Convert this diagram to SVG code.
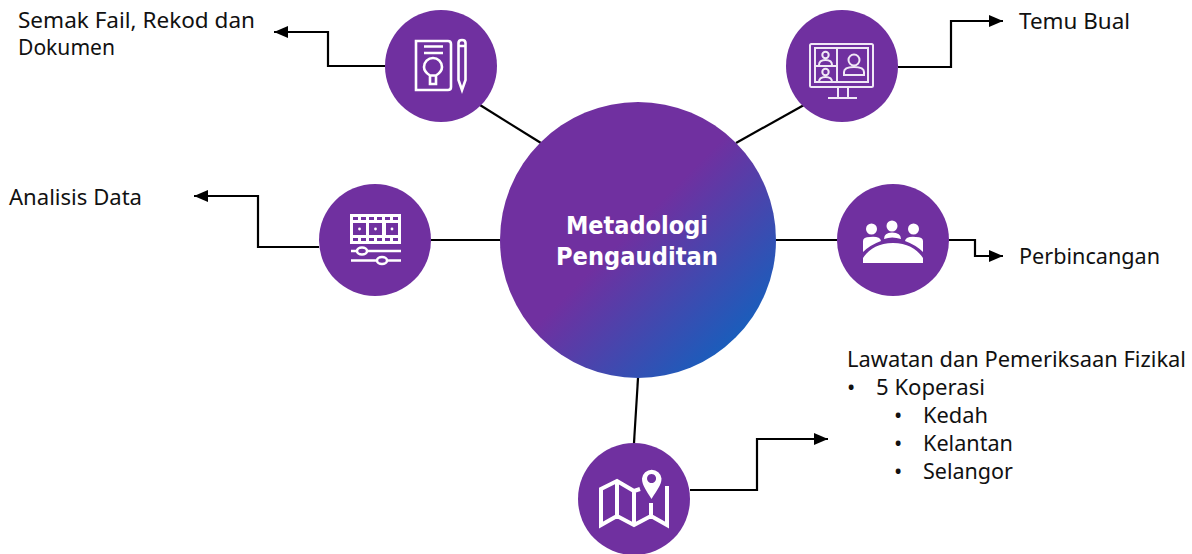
<svg xmlns="http://www.w3.org/2000/svg" width="1192" height="554" viewBox="0 0 1192 554">
<style>
.t{font-family:"Noto Sans","DejaVu Sans",sans-serif;font-size:22px;fill:#111}
.c{font-family:"DejaVu Sans",sans-serif;font-size:25px;font-weight:700;fill:#fff;text-anchor:middle}
.n{fill:#7030a0}
.l{fill:none;stroke:#000;stroke-width:2.200}
.i{fill:none;stroke:#fff;stroke-width:2.600}
.i2{fill:none;stroke:#f0e8f6;stroke-width:2}
.w{fill:#fff}
</style>
<defs>
<marker id="a" markerUnits="userSpaceOnUse" markerWidth="14" markerHeight="12" refX="14" refY="6" orient="auto"><path d="M0 0L14 6L0 12Z" fill="#000"/></marker>
<linearGradient id="g" x1="0" y1="0" x2="1" y2="1"><stop offset="0.47" stop-color="#7030a0"/><stop offset="0.88" stop-color="#1560bd"/></linearGradient>
</defs>
<g id="connectors">
<path class="l" d="M480 105L541 143"/><path class="l" d="M804 105L736 143"/>
<path class="l" d="M431 240H500"/><path class="l" d="M776 240H837"/>
<path class="l" d="M638 378L634 443"/>
<path class="l" marker-end="url(#a)" d="M385 66H328V32H274"/>
<path class="l" marker-end="url(#a)" d="M898 67H951V21H1003"/>
<path class="l" marker-end="url(#a)" d="M319 247H258V196H194"/>
<path class="l" marker-end="url(#a)" d="M949 240H975V256H1003"/>
<path class="l" marker-end="url(#a)" d="M690 490H757V439H828"/>
</g>
<g id="center"><circle cx="638" cy="240" r="138" fill="url(#g)"/><text class="c" x="637" y="234" textLength="142" lengthAdjust="spacingAndGlyphs">Metadologi</text><text class="c" x="637" y="265" textLength="162" lengthAdjust="spacingAndGlyphs">Pengauditan</text></g>
<g id="node-semak"><circle class="n" cx="441" cy="66" r="56"/>
<path class="i" d="M416 41H448Q451 41 451 44V87Q451 90 448 90H416Z"/>
<path class="i" d="M424 46.500H443M424 53H443"/>
<path class="i" d="M430 75.500C426 73 424 71 424 67A9 9 0 0 1 442 67C442 71 440 73 436 75.500ZM430 75.500V84H436V75.500"/>
<path class="i" d="M458.500 43Q458.500 40 462 40Q465.500 40 465.500 43V80L462 90L458.500 80ZM458.500 46H465.500"/></g>
<g id="node-temu"><circle class="n" cx="842" cy="66" r="56"/>
<rect class="i2" x="810" y="44" width="63" height="43" rx="1.500"/>
<rect class="i2" x="815" y="48" width="53" height="34"/>
<path class="i2" d="M837 48V82M815 66H837M838 87V98M848 87V98M828 98H857"/>
<circle class="i2" cx="825.500" cy="55" r="3.200"/><path class="i2" d="M819 65Q819 60 825.500 60Q832 60 832 65"/>
<circle class="i2" cx="825.500" cy="72" r="3.200"/><path class="i2" d="M819 82Q819 77 825.500 77Q832 77 832 82"/>
<circle class="i2" cx="854" cy="60" r="5.500"/><path class="i2" d="M844 75V72Q844 67 854 67Q864 67 864 72V75Z"/></g>
<g id="node-analisis"><circle class="n" cx="375" cy="240" r="56"/>
<path class="w" fill-rule="evenodd" d="M350 214H401V244H350ZM353 217V220H358V217ZM361 217V220H366V217ZM369 217V220H374V217ZM377 217V220H382V217ZM385 217V220H390V217ZM393 217V220H398V217ZM353 238V241H358V238ZM361 238V241H366V238ZM369 238V241H374V238ZM377 238V241H382V238ZM385 238V241H390V238ZM393 238V241H398V238ZM353 223V235H366V223ZM369 223V235H382V223ZM386 223V235H398V223Z"/>
<circle class="w" cx="359.500" cy="229" r="1.400"/><circle class="w" cx="375.500" cy="229" r="1.400"/><circle class="w" cx="392" cy="229" r="1.400"/>
<path class="i" d="M351 251H401M351 260.500H401"/>
<ellipse cx="362" cy="251" rx="5" ry="3.500" fill="#7030a0" stroke="#fff" stroke-width="2.500"/><ellipse cx="382" cy="260.500" rx="5" ry="3.500" fill="#7030a0" stroke="#fff" stroke-width="2.500"/></g>
<g id="node-perbincangan"><circle class="n" cx="893" cy="240" r="56"/>
<circle class="w" cx="871.500" cy="229" r="5.500"/><circle class="w" cx="892" cy="226" r="5.500"/><circle class="w" cx="913.500" cy="229" r="5.500"/>
<path class="w" d="M863 252V241Q863 237 870 237Q880 236 881 241Q870 245 863 252ZM923 252V241Q923 237 916 237Q906 236 905 241Q916 245 923 252ZM884 239Q884 232.500 892 232.500Q901 232.500 901 239Q892 236 884 239ZM863 263V258C868 250 878 243 893 243C908 243 918 250 923 258V263Z"/></g>
<g id="node-lawatan"><circle class="n" cx="634" cy="499" r="56"/>
<path class="i" style="stroke-width:4" d="M640 489L634 491L617 481L601 489V525L617 516L634 525L651 516L667 525V486M617 481V516M634 491V525M651 503V516"/>
<path class="w" fill-rule="evenodd" d="M651.500 499C646 490 642 485 642 478.500A9.800 9.800 0 0 1 661.500 478.500C661.500 485 657 490 651.500 499ZM651.500 474A4.500 4.500 0 1 0 651.600 474Z"/></g>
<g id="labels">
<text class="t" x="18" y="28" textLength="237" lengthAdjust="spacingAndGlyphs">Semak Fail, Rekod dan</text>
<text class="t" x="18" y="55" textLength="97" lengthAdjust="spacingAndGlyphs">Dokumen</text>
<text class="t" x="1019" y="29" textLength="111" lengthAdjust="spacingAndGlyphs">Temu Bual</text>
<text class="t" x="9" y="205" textLength="133" lengthAdjust="spacingAndGlyphs">Analisis Data</text>
<text class="t" x="1019" y="264" textLength="141" lengthAdjust="spacingAndGlyphs">Perbincangan</text>
<text class="t" x="847" y="367" textLength="339" lengthAdjust="spacingAndGlyphs">Lawatan dan Pemeriksaan Fizikal</text>
<text class="t" x="847" y="394.500">•</text><text class="t" x="876" y="394.500" textLength="109" lengthAdjust="spacingAndGlyphs">5 Koperasi</text>
<text class="t" x="894" y="422.500">•</text><text class="t" x="923" y="422.500" textLength="65" lengthAdjust="spacingAndGlyphs">Kedah</text>
<text class="t" x="894" y="450.500">•</text><text class="t" x="923" y="450.500" textLength="90" lengthAdjust="spacingAndGlyphs">Kelantan</text>
<text class="t" x="894" y="478.500">•</text><text class="t" x="923" y="478.500" textLength="90" lengthAdjust="spacingAndGlyphs">Selangor</text>
</g>
</svg>
